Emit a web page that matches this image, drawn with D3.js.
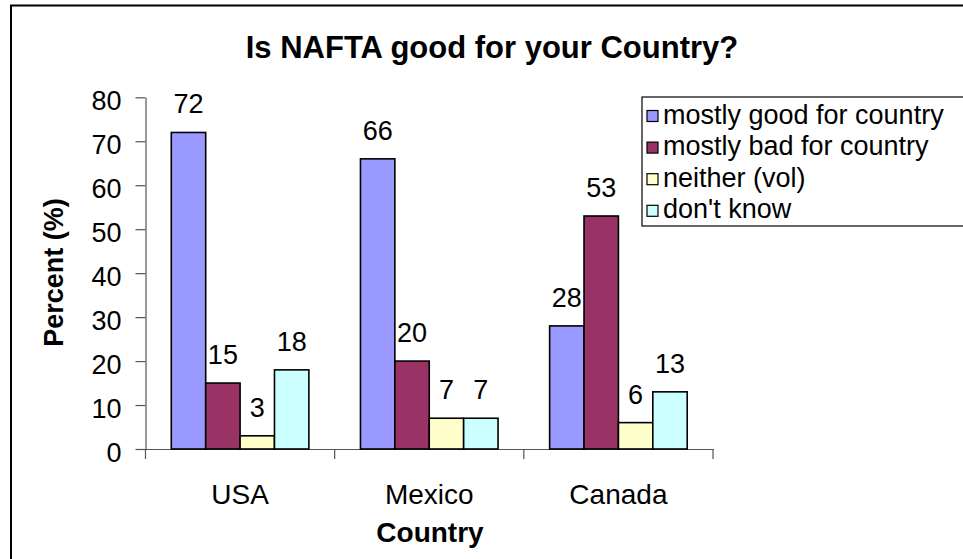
<!DOCTYPE html>
<html>
<head>
<meta charset="utf-8">
<script src="https://cdn.jsdelivr.net/npm/d3@7"></script>
<style>
  html, body { margin: 0; padding: 0; background: #fff; }
  svg { display: block; }
  text { font-family: "Liberation Sans", Arial, Helvetica, sans-serif; fill: #000; }
</style>
</head>
<body>
<svg id="chart" width="963" height="559"></svg>
<script>
// ---- data ----
const categories = ["USA", "Mexico", "Canada"];
const seriesNames = ["mostly good for country", "mostly bad for country", "neither (vol)", "don't know"];
const mostlyGood = [72, 66, 28];
const mostlyBad = [15, 20, 53];
const neither = [3, 7, 6];
const dontKnow = [18, 7, 13];
const yTicks = [0, 10, 20, 30, 40, 50, 60, 70, 80];
const colors = ["#9999FF", "#993366", "#FFFFCC", "#CCFFFF"];
const titleText = "Is NAFTA good for your Country?";
const yLabel = "Percent (%)";
const xLabel = "Country";

const seriesValues = [mostlyGood, mostlyBad, neither, dontKnow];

const svg = d3.select("#chart");
const font = '"Liberation Sans", Arial, Helvetica, sans-serif';

// outer frame (extends beyond visible area at right/bottom)
svg.append("rect")
  .attr("x", 11).attr("y", 5.5)
  .attr("width", 1000).attr("height", 600)
  .attr("fill", "none").attr("stroke", "#000").attr("stroke-width", 2);

// scales
const plotLeft = 145.5, plotRight = 713, plotTop = 97.3, plotBottom = 449;
const y = d3.scaleLinear().domain([0, 80]).range([plotBottom, plotTop]);
const x0 = d3.scaleBand().domain(categories).range([plotLeft, plotRight]).paddingInner(0).paddingOuter(0);
const x1 = d3.scaleBand().domain(seriesNames).range([0, x0.bandwidth()]).paddingInner(0).paddingOuter(0.75);

// title
svg.append("text")
  .attr("x", 492).attr("y", 57.5)
  .attr("text-anchor", "middle")
  .style("font-size", "31px").style("font-weight", "bold")
  .text(titleText);

// y axis
const yAxis = d3.axisLeft(y).tickValues(yTicks).tickSize(10).tickPadding(14).tickSizeOuter(0);
const gy = svg.append("g").attr("transform", `translate(${plotLeft},0)`).call(yAxis);
gy.select(".domain").attr("stroke", "#555").attr("stroke-width", 1.2);
gy.selectAll(".tick line").attr("stroke", "#555").attr("stroke-width", 1.2);
gy.selectAll(".tick text").style("font-size", "27px").style("font-family", font).attr("dy", "0.45em").attr("fill", "#000");

// x axis (labels at band centres)
const xAxis = d3.axisBottom(x0).tickSize(0).tickPadding(35).tickSizeOuter(0);
const gx = svg.append("g").attr("transform", `translate(0,${plotBottom})`).call(xAxis);
gx.select(".domain").attr("stroke", "#555").attr("stroke-width", 1.2);
gx.selectAll(".tick text").style("font-size", "28px").style("font-family", font).attr("fill", "#000");

// x boundary ticks
const boundaries = categories.map(c => x0(c)).concat([x0.range()[1]]);
svg.append("g").selectAll("line").data(boundaries).join("line")
  .attr("x1", d => d).attr("x2", d => d)
  .attr("y1", plotBottom).attr("y2", plotBottom + 10)
  .attr("stroke", "#555").attr("stroke-width", 1.2);

// bars
const groups = svg.append("g").selectAll("g").data(categories).join("g")
  .attr("transform", c => `translate(${x0(c)},0)`);

groups.each(function(c, ci) {
  const g = d3.select(this);
  seriesNames.forEach((s, si) => {
    const v = seriesValues[si][ci];
    g.append("rect")
      .attr("x", x1(s)).attr("y", y(v))
      .attr("width", x1.bandwidth()).attr("height", y(0) - y(v))
      .attr("fill", colors[si]).attr("stroke", "#000").attr("stroke-width", 1.6);
    g.append("text")
      .attr("x", x1(s) + x1.bandwidth() / 2).attr("y", y(v) - 19)
      .attr("text-anchor", "middle")
      .style("font-size", "27px")
      .text(v);
  });
});

// axis titles
svg.append("text")
  .attr("transform", "translate(63,272.5) rotate(-90)")
  .attr("text-anchor", "middle")
  .style("font-size", "27px").style("font-weight", "bold")
  .text(yLabel);

svg.append("text")
  .attr("x", 430).attr("y", 541.5)
  .attr("text-anchor", "middle")
  .style("font-size", "28px").style("font-weight", "bold")
  .text(xLabel);

// legend
const legend = svg.append("g");
legend.append("rect")
  .attr("x", 642).attr("y", 97)
  .attr("width", 400).attr("height", 129)
  .attr("fill", "#fff").attr("stroke", "#000").attr("stroke-width", 1.2);
const rows = legend.selectAll("g.row").data(seriesNames).join("g").attr("class", "row")
  .attr("transform", (d, i) => `translate(0,${123.5 + i * 31.6})`);
rows.append("rect")
  .attr("x", 647).attr("y", -13)
  .attr("width", 11).attr("height", 11)
  .attr("fill", (d, i) => colors[i]).attr("stroke", "#000").attr("stroke-width", 1.2);
rows.append("text")
  .attr("x", 663).attr("y", 0)
  .style("font-size", "27px")
  .text(d => d);
</script>
</body>
</html>
